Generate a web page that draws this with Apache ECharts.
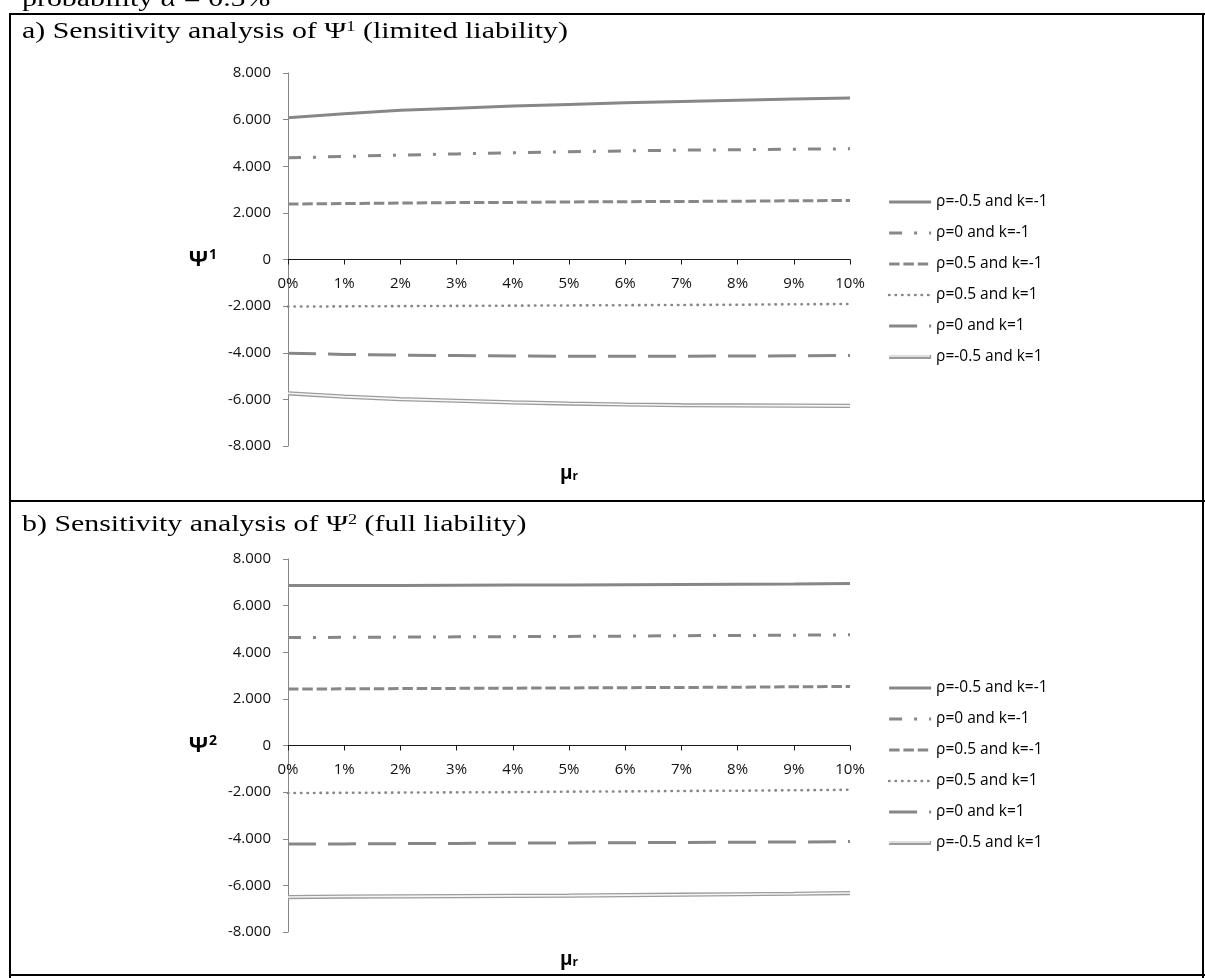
<!DOCTYPE html>
<html>
<head>
<meta charset="utf-8">
<script src="https://cdn.jsdelivr.net/npm/echarts@6/dist/echarts.min.js"></script>
<style>
  html, body { margin: 0; padding: 0; background: #fff; }
  #chart { width: 1205px; height: 978px; }
</style>
</head>
<body>
<div id="chart"></div>
<script>
// Mean return of the reference asset, in percent
const muR = [0, 1, 2, 3, 4, 5, 6, 7, 8, 9, 10];

const seriesNames = [
  'ρ=-0.5 and k=-1',
  'ρ=0 and k=-1',
  'ρ=0.5 and k=-1',
  'ρ=0.5 and k=1',
  'ρ=0 and k=1',
  'ρ=-0.5 and k=1'
];
const innerName = 'ρ=-0.5 and k=1 (inner)';

// a) Ψ1, limited liability
const psi1_rhoNeg05_kNeg1 = [6080, 6250, 6400, 6490, 6580, 6650, 6720, 6780, 6830, 6880, 6930];
const psi1_rho0_kNeg1     = [4360, 4420, 4480, 4530, 4580, 4620, 4660, 4690, 4710, 4730, 4750];
const psi1_rho05_kNeg1    = [2380, 2400, 2420, 2440, 2450, 2470, 2480, 2490, 2500, 2520, 2530];
const psi1_rho05_k1       = [-2020, -2010, -2000, -1990, -1980, -1970, -1960, -1950, -1940, -1920, -1910];
const psi1_rho0_k1        = [-4020, -4070, -4100, -4120, -4140, -4150, -4150, -4150, -4140, -4130, -4120];
const psi1_rhoNeg05_k1    = [-5740, -5880, -5990, -6060, -6130, -6180, -6220, -6250, -6260, -6270, -6280];

// b) Ψ2, full liability
const psi2_rhoNeg05_kNeg1 = [6860, 6860, 6860, 6870, 6880, 6890, 6900, 6910, 6920, 6930, 6950];
const psi2_rho0_kNeg1     = [4630, 4640, 4650, 4660, 4670, 4680, 4690, 4710, 4720, 4730, 4750];
const psi2_rho05_kNeg1    = [2420, 2430, 2440, 2450, 2460, 2470, 2480, 2490, 2500, 2520, 2530];
const psi2_rho05_k1       = [-2040, -2030, -2020, -2010, -2000, -1980, -1970, -1950, -1940, -1920, -1900];
const psi2_rho0_k1        = [-4230, -4220, -4210, -4200, -4190, -4180, -4170, -4160, -4150, -4140, -4120];
const psi2_rhoNeg05_k1    = [-6500, -6480, -6470, -6460, -6450, -6440, -6420, -6400, -6380, -6360, -6330];

const panelA = [psi1_rhoNeg05_kNeg1, psi1_rho0_kNeg1, psi1_rho05_kNeg1, psi1_rho05_k1, psi1_rho0_k1, psi1_rhoNeg05_k1];
const panelB = [psi2_rhoNeg05_kNeg1, psi2_rho0_kNeg1, psi2_rho05_kNeg1, psi2_rho05_k1, psi2_rho0_k1, psi2_rhoNeg05_k1];

const GREY = '#878787';
const lineStyles = [
  { color: GREY, width: 3, type: 'solid' },
  { color: GREY, width: 3, type: [13, 12, 3, 12] },
  { color: GREY, width: 3, type: [10.5, 3.8] },
  { color: GREY, width: 2.6, type: [0.4, 6.1], cap: 'round' },
  { color: GREY, width: 3, type: [28, 12] },
  { color: '#9c9c9c', width: 4.2, type: 'solid' }
];
const innerStyle = { color: '#f6f6f6', width: 1.6, type: 'solid' };

const SANS = '"Open Sans", "Noto Sans", sans-serif';
const SERIF = '"Liberation Serif", "DejaVu Serif", serif';

// grid geometry: the value range is symmetric, so the zero line sits half-way down
const GRID_H = 373;
const ZERO_OFFSET = -GRID_H / 2;

function thousands(v) {
  const s = String(Math.abs(v)).replace(/\B(?=(\d{3})+(?!\d))/g, '.');
  return (v < 0 ? '-' : '') + s;
}

function pairs(values) {
  return muR.map((m, i) => [m, values[i]]);
}

function buildSeries(panel, axisIndex) {
  const out = panel.map((values, i) => ({
    name: seriesNames[i],
    type: 'line',
    xAxisIndex: axisIndex,
    yAxisIndex: axisIndex,
    data: pairs(values),
    symbol: 'none',
    lineStyle: lineStyles[i],
    itemStyle: { color: lineStyles[i].color },
    z: 2
  }));
  // white core over the last series gives the double line
  out.push({
    name: innerName,
    type: 'line',
    xAxisIndex: axisIndex,
    yAxisIndex: axisIndex,
    data: pairs(panel[5]),
    symbol: 'none',
    lineStyle: innerStyle,
    itemStyle: { color: innerStyle.color },
    z: 3
  });
  return out;
}

function xAxis(gridIndex) {
  return {
    type: 'value', gridIndex, min: 0, max: 10, interval: 1,
    position: 'bottom',
    offset: ZERO_OFFSET,
    axisLine: { onZero: false, lineStyle: { color: '#1a1a1a', width: 1 } },
    axisTick: { show: true, length: 5, lineStyle: { color: '#1a1a1a' } },
    axisLabel: { formatter: '{value}%', color: '#111', fontFamily: SANS, fontSize: 15, margin: 17 },
    splitLine: { show: false },
    name: 'μ{sub|r}',
    nameLocation: 'middle',
    nameGap: 214,
    nameTextStyle: {
      fontFamily: SANS, fontSize: 19, fontWeight: 'bold', color: '#000', verticalAlign: 'middle',
      rich: { sub: { fontFamily: SANS, fontSize: 12, fontWeight: 'bold', color: '#000', verticalAlign: 'bottom', padding: [7, 0, 0, 0] } }
    }
  };
}

function yAxis(gridIndex, sup) {
  return {
    type: 'value', gridIndex, min: -8000, max: 8000, interval: 2000,
    axisLine: { show: true, onZero: false, lineStyle: { color: '#868686', width: 1 } },
    axisTick: { show: true, length: 5, lineStyle: { color: '#868686' } },
    axisLabel: { formatter: thousands, color: '#111', fontFamily: SANS, fontSize: 15, margin: 17 },
    splitLine: { show: false },
    name: 'Ψ{sup|' + sup + '}',
    nameLocation: 'middle',
    nameRotate: 0,
    nameGap: 71,
    nameTextStyle: {
      fontFamily: SANS, fontSize: 22, fontWeight: 'bold', color: '#000', align: 'right', verticalAlign: 'middle',
      rich: { sup: { fontFamily: SANS, fontSize: 14, fontWeight: 'bold', color: '#000', verticalAlign: 'top', padding: [0, 0, 9, 1] } }
    }
  };
}

function legend(top, data, withText) {
  return {
    orient: 'vertical', left: 887, top,
    padding: 0,
    itemWidth: 42, itemHeight: 14, itemGap: 15,
    selectedMode: false,
    data,
    formatter: withText ? '{name}' : () => '',
    itemStyle: { color: 'transparent', borderColor: 'transparent', borderWidth: 0, opacity: 0 },
    lineStyle: { width: 'inherit' },
    textStyle: { fontFamily: SANS, fontSize: 15.5, color: '#000' },
    z: withText ? 4 : 5
  };
}

// serif caption, drawn a little wider than the plain face
function caption(x, y, text) {
  return {
    type: 'text', x, y, scaleX: 1.3, silent: true,
    style: {
      text,
      rich: {
        n: { fontFamily: SERIF, fontSize: 23, fill: '#000', lineHeight: 23 },
        i: { fontFamily: SERIF, fontSize: 23, fontStyle: 'italic', fill: '#000', lineHeight: 23 },
        sup: { fontFamily: SERIF, fontSize: 14, fill: '#000', verticalAlign: 'top', lineHeight: 14 }
      }
    }
  };
}

const chart = echarts.init(document.getElementById('chart'), null, { renderer: 'canvas' });

chart.setOption({
  animation: false,
  backgroundColor: '#fff',
  grid: [
    { left: 288, top: 73, width: 562, height: GRID_H, outerBoundsMode: 'none', containLabel: false },
    { left: 288, top: 559, width: 562, height: GRID_H, outerBoundsMode: 'none', containLabel: false }
  ],
  xAxis: [xAxis(0), xAxis(1)],
  yAxis: [yAxis(0, 1), yAxis(1, 2)],
  legend: [
    legend(194, seriesNames, true),
    legend(349, [innerName], false),
    legend(680, seriesNames, true),
    legend(835, [innerName], false)
  ],
  series: [...buildSeries(panelA, 0), ...buildSeries(panelB, 1)],
  graphic: [
    caption(22, -12, '{n|probability }{i|α}{n| = 0.5%}'),
    caption(22, 20, '{n|a) Sensitivity analysis of Ψ}{sup|1}{n| (limited liability)}'),
    caption(22, 513, '{n|b) Sensitivity analysis of Ψ}{sup|2}{n| (full liability)}'),
    // table frame
    { type: 'line', silent: true, shape: { x1: 9, y1: 14, x2: 1205, y2: 14 }, style: { stroke: '#000', lineWidth: 2 } },
    { type: 'line', silent: true, shape: { x1: 10, y1: 13, x2: 10, y2: 978 }, style: { stroke: '#000', lineWidth: 2 } },
    { type: 'line', silent: true, shape: { x1: 1203, y1: 13, x2: 1203, y2: 978 }, style: { stroke: '#000', lineWidth: 2 } },
    { type: 'line', silent: true, shape: { x1: 9, y1: 501, x2: 1205, y2: 501 }, style: { stroke: '#000', lineWidth: 2 } },
    { type: 'line', silent: true, shape: { x1: 9, y1: 975, x2: 1205, y2: 975 }, style: { stroke: '#000', lineWidth: 2 } }
  ]
});
</script>
</body>
</html>
